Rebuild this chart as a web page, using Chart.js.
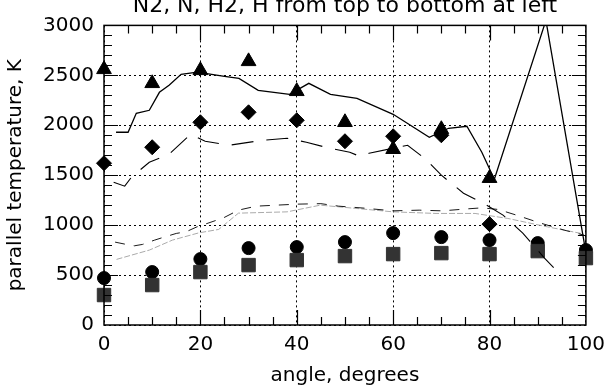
<!DOCTYPE html>
<html>
<head>
<meta charset="utf-8">
<script src="https://cdn.jsdelivr.net/npm/chart.js@4/dist/chart.umd.min.js"></script>
<style>
  html, body { margin: 0; padding: 0; background: #fff; }
</style>
</head>
<body>
<canvas id="chart" width="613" height="389"></canvas>
<script>
// measured points (symbols), N2, N, H2, H
const symAngles = [0, 10, 20, 30, 40, 50, 60, 70, 80];
const n2Meas = [2560, 2420, 2550, 2640, 2340, 2030, 1760, 1960, 1470];
const nMeas  = [1620, 1780, 2030, 2130, 2050, 1840, 1890, 1900, 1010];
const hAngles = [0, 10, 20, 30, 40, 50, 60, 70, 80, 90, 100];
const h2Meas = [470, 530, 660, 770, 780, 830, 920, 880, 850, 820, 750];
const hMeas  = [300, 400, 530, 600, 650, 690, 710, 720, 710, 740, 670];

// model curves
const n2LineX = [2.5, 5, 6.7, 9.4, 11.5, 13.5, 16, 19, 21, 25, 28, 32, 38.5, 42.5, 47, 52.5, 60, 67.5, 71.5, 75.3, 78.4, 81, 91.7, 99.8];
const n2LineY = [1930, 1930, 2120, 2150, 2330, 2400, 2510, 2530, 2520, 2490, 2470, 2350, 2310, 2420, 2310, 2270, 2110, 1880, 1970, 1990, 1730, 1460, 3050, 780];
const nLineX = [2, 4.3, 5.7, 9.4, 13.5, 18, 21, 26, 33, 38, 42, 46, 51, 53, 55, 61, 63, 67, 70, 74.6, 78.7, 82.8, 86.9, 91.4, 94.8];
const nLineY = [1430, 1390, 1480, 1630, 1710, 1910, 1840, 1800, 1850, 1870, 1830, 1780, 1730, 1690, 1720, 1780, 1800, 1650, 1500, 1320, 1220, 1100, 920, 670, 500];
const h2LineX = [2.3, 4.3, 6.3, 8, 10.5, 12, 15, 17, 19.3, 21, 23.4, 24.8, 27.9, 31.6, 40, 45, 48.7, 54, 60, 65.4, 70.2, 74.6, 78.4, 81.8, 85.6, 90.4, 95.5, 99.6];
const h2LineY = [830, 810, 793, 807, 850, 873, 917, 933, 983, 1010, 1050, 1073, 1150, 1190, 1210, 1215, 1190, 1170, 1143, 1150, 1143, 1160, 1173, 1157, 1100, 1023, 950, 900];
const hLineX = [2.6, 9.4, 14.2, 19.7, 23.8, 27.9, 38, 44.9, 60, 68.9, 77, 83.8, 92, 99];
const hLineY = [657, 750, 850, 923, 957, 1120, 1133, 1200, 1133, 1117, 1117, 1067, 983, 917];

const pts = (xs, ys) => xs.map((x, i) => ({x, y: ys[i]}));

const FONT = 'DejaVu Sans';

// frame and inward tick marks on all four sides
const frameTicks = {
  id: 'frameTicks',
  afterDatasetsDraw(chart) {
    const {ctx, chartArea: a, scales: {x, y}} = chart;
    ctx.save();
    ctx.strokeStyle = '#000';
    ctx.lineWidth = 1.5;
    ctx.strokeRect(a.left, a.top, a.right - a.left, a.bottom - a.top);
    ctx.lineWidth = 1.2;
    ctx.beginPath();
    for (let v = 5; v < 100; v += 5) {
      const px = Math.round(x.getPixelForValue(v)) + 0.5;
      const len = v % 20 === 0 ? 15 : 8;
      ctx.moveTo(px, a.bottom); ctx.lineTo(px, a.bottom - len);
      ctx.moveTo(px, a.top); ctx.lineTo(px, a.top + len);
    }
    for (let v = 100; v < 3000; v += 100) {
      const py = Math.round(y.getPixelForValue(v)) + 0.5;
      const len = v % 500 === 0 ? 14 : 8;
      ctx.moveTo(a.left, py); ctx.lineTo(a.left + len, py);
      ctx.moveTo(a.right, py); ctx.lineTo(a.right - len, py);
    }
    ctx.stroke();
    ctx.restore();
  }
};

new Chart(document.getElementById('chart'), {
  type: 'scatter',
  data: {
    datasets: [
      {data: pts(n2LineX, n2LineY), showLine: true, borderColor: '#000', borderWidth: 1.3, pointRadius: 0},
      {data: pts(nLineX, nLineY), showLine: true, borderColor: '#000', borderWidth: 1.1, borderDash: [22, 13], pointRadius: 0},
      {data: pts(h2LineX, h2LineY), showLine: true, borderColor: '#000', borderWidth: 0.9, borderDash: [10, 9], pointRadius: 0},
      {data: pts(hLineX, hLineY), showLine: true, borderColor: '#aaa', borderWidth: 1, borderDash: [6, 2], pointRadius: 0},
      {data: pts(symAngles, n2Meas), pointStyle: 'triangle', pointRadius: 8.5, backgroundColor: '#000', borderColor: '#000', borderWidth: 1, clip: false},
      {data: pts(symAngles, nMeas), pointStyle: 'rectRot', pointRadius: 7.5, backgroundColor: '#000', borderColor: '#000', borderWidth: 1, clip: false},
      {data: pts(hAngles, hMeas), pointStyle: 'rect', pointRadius: 9.5, backgroundColor: '#333', borderColor: '#333', borderWidth: 1, clip: false},
      {data: pts(hAngles, h2Meas), pointStyle: 'circle', pointRadius: 6.5, backgroundColor: '#000', borderColor: '#000', borderWidth: 1, clip: false}
    ]
  },
  options: {
    responsive: false,
    animation: false,
    layout: {padding: {left: 0, right: 21, top: 0, bottom: 0}},
    plugins: {
      legend: {display: false},
      tooltip: {enabled: false},
      title: {
        display: true,
        fullSize: false,
        text: 'N2, N, H2, H from top to bottom at left',
        color: '#000',
        font: {family: FONT, size: 22, weight: 'normal', lineHeight: 1.2},
        padding: {top: -7, bottom: 6}
      }
    },
    scales: {
      x: {
        type: 'linear', min: 0, max: 100,
        ticks: {stepSize: 20, color: '#000', font: {family: FONT, size: 20}, padding: 8, maxRotation: 0},
        grid: {color: '#000', lineWidth: 1, drawTicks: false},
        border: {display: false, dash: [2, 3]},
        title: {display: true, text: 'angle, degrees', color: '#000', font: {family: FONT, size: 20}, padding: {top: 0, bottom: 1}},
        afterFit(s) { s.height = 64; }
      },
      y: {
        type: 'linear', min: 0, max: 3000,
        ticks: {stepSize: 500, color: '#000', font: {family: FONT, size: 20}, padding: 10, callback: v => String(v)},
        grid: {color: '#000', lineWidth: 1, drawTicks: false},
        border: {display: false, dash: [2, 3]},
        title: {display: true, text: 'parallel temperature, K', color: '#000', font: {family: FONT, size: 20}, padding: {top: 4, bottom: 0}},
        afterFit(s) { s.width = 104; }
      }
    }
  },
  plugins: [frameTicks]
});
</script>
</body>
</html>
